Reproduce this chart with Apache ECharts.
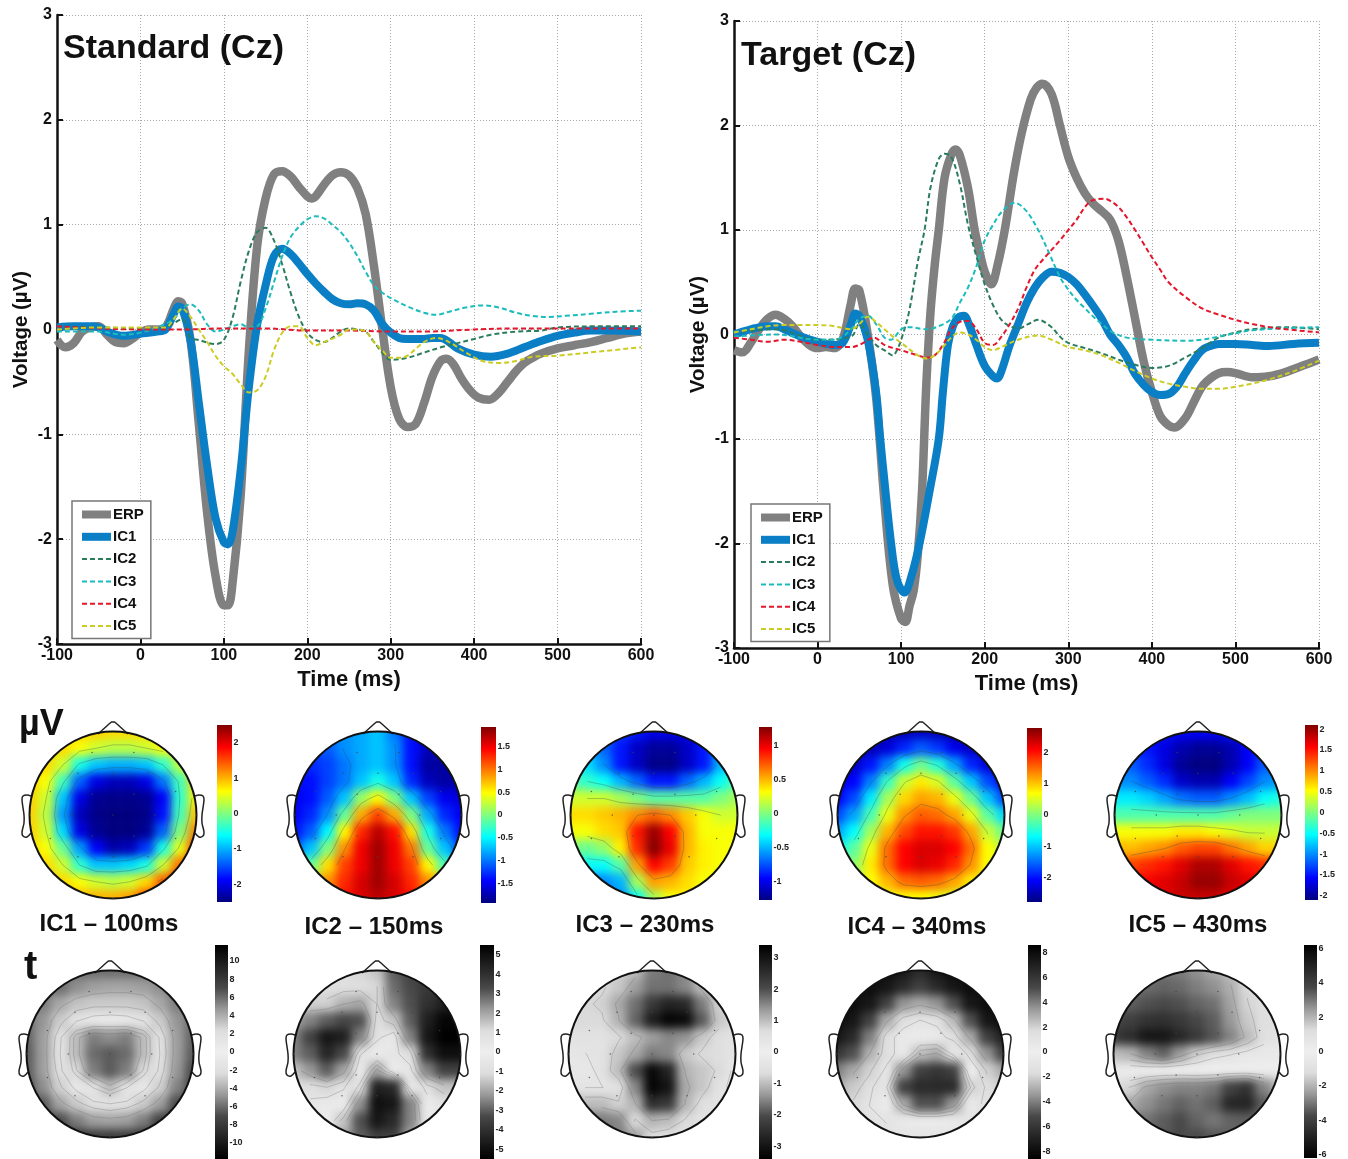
<!DOCTYPE html>
<html><head><meta charset="utf-8">
<script src="https://cdn.jsdelivr.net/npm/echarts@6/dist/echarts.min.js"></script>
<style>
html,body{margin:0;padding:0;background:#fff;}
#clip{position:absolute;left:0;top:0;width:1348px;height:1159px;overflow:hidden;}
#heat{position:absolute;left:0;top:0;width:1348px;height:1159px;filter:blur(5px);}
#main{position:absolute;left:0;top:0;width:1348px;height:1159px;}
</style></head><body>
<div id="clip"><div id="heat"></div></div>
<div id="main"></div>
<script>
/* ---------- waveform data: [time ms, voltage uV] ---------- */
const stdERP=[[-100,-.1],[-90,-.17],[-80,-.13],[-70,-.02],[-60,.02],[-50,.03],[-40,-.05],[-30,-.12],[-20,-.13],[-10,-.09],[0,-.03],[10,0],[20,0],[30,.02],[40,.2],[45,.27],[50,.25],[60,-.1],[70,-.9],[80,-1.75],[90,-2.35],[100,-2.63],[105,-2.63],[110,-2.45],[120,-1.6],[130,-.2],[140,.8],[150,1.25],[160,1.48],[170,1.51],[180,1.46],[190,1.36],[200,1.27],[205,1.25],[210,1.27],[220,1.38],[230,1.47],[240,1.5],[250,1.47],[260,1.35],[270,1.1],[280,.6],[290,0],[300,-.55],[310,-.85],[320,-.93],[330,-.9],[340,-.7],[350,-.45],[360,-.3],[367,-.28],[375,-.33],[385,-.47],[395,-.58],[405,-.65],[418,-.67],[430,-.6],[440,-.5],[450,-.4],[460,-.32],[470,-.27],[480,-.23],[500,-.18],[520,-.15],[540,-.12],[560,-.08],[580,-.04],[600,-.02]];
const stdIC1=[[-100,.02],[-80,.03],[-60,.03],[-50,.02],[-40,-.02],[-20,-.06],[0,-.04],[20,-.02],[30,0],[40,.15],[45,.22],[50,.2],[60,-.1],[70,-.7],[80,-1.3],[90,-1.8],[100,-2.03],[105,-2.05],[110,-1.95],[120,-1.35],[130,-.55],[140,.05],[150,.42],[160,.7],[170,.77],[180,.72],[190,.63],[200,.53],[210,.44],[220,.36],[230,.29],[240,.25],[250,.24],[260,.25],[270,.24],[280,.18],[290,.05],[300,-.03],[310,-.08],[320,-.09],[340,-.09],[350,-.08],[360,-.08],[370,-.12],[380,-.18],[400,-.24],[420,-.26],[440,-.23],[460,-.17],[480,-.11],[500,-.06],[520,-.03],[540,-.01],[560,-.01],[600,-.02]];
const stdIC2=[[-100,.03],[-50,.02],[0,.01],[30,.02],[40,.06],[50,.1],[60,-.08],[70,-.1],[90,-.14],[100,-.1],[110,.1],[120,.45],[130,.75],[140,.93],[150,.97],[160,.85],[170,.62],[180,.35],[190,.12],[200,-.03],[210,-.1],[220,-.12],[230,-.08],[240,-.02],[250,.01],[260,0],[270,-.02],[280,-.12],[290,-.22],[300,-.29],[320,-.27],[340,-.22],[360,-.17],[380,-.13],[400,-.09],[420,-.05],[450,-.02],[480,-.01],[500,.02],[550,.03],[600,.03]];
const stdIC3=[[-100,-.02],[-50,-.02],[-20,-.05],[0,-.03],[20,.02],[40,.1],[50,.2],[60,.24],[70,.18],[80,.05],[90,-.02],[100,0],[110,.03],[120,.05],[130,.02],[140,.03],[150,.2],[160,.45],[170,.7],[180,.88],[190,.98],[200,1.05],[210,1.08],[220,1.06],[230,1],[240,.93],[250,.83],[260,.7],[270,.55],[280,.42],[290,.35],[300,.3],[320,.22],[340,.16],[355,.14],[370,.17],[390,.21],[410,.23],[430,.21],[450,.16],[470,.13],[490,.12],[510,.13],[540,.15],[570,.17],[600,.18]];
const stdIC4=[[-100,.03],[0,0],[50,0],[100,.01],[150,.01],[200,-.01],[250,-.01],[300,-.02],[340,-.02],[400,0],[450,.01],[500,.01],[600,.01]];
const stdIC5=[[-100,0],[-50,.02],[0,.02],[30,.02],[40,.1],[50,.2],[60,.12],[70,0],[80,-.12],[90,-.25],[100,-.35],[110,-.42],[120,-.52],[130,-.6],[140,-.58],[150,-.45],[160,-.2],[170,-.03],[180,.03],[190,.03],[200,-.08],[210,-.15],[220,-.12],[240,-.05],[250,0],[260,0],[270,-.02],[280,-.12],[290,-.2],[300,-.27],[310,-.27],[320,-.25],[340,-.12],[355,-.08],[370,-.12],[390,-.22],[410,-.3],[430,-.32],[450,-.3],[470,-.26],[500,-.25],[550,-.21],[600,-.17]];

const tgtERP=[[-100,-.15],[-90,-.17],[-80,-.08],[-70,.05],[-60,.15],[-50,.19],[-40,.15],[-30,.08],[-20,-.02],[-10,-.1],[0,-.13],[10,-.12],[20,-.13],[30,-.05],[40,.3],[45,.44],[50,.42],[60,0],[70,-.6],[80,-1.6],[90,-2.4],[100,-2.72],[105,-2.75],[110,-2.6],[115,-2.45],[120,-2.1],[125,-1.5],[130,-.5],[135,.2],[140,.65],[145,1],[152,1.5],[160,1.72],[165,1.77],[170,1.72],[180,1.4],[188,1],[195,.75],[200,.6],[208,.48],[215,.65],[224,1],[235,1.55],[244,1.92],[255,2.25],[262,2.36],[269,2.4],[280,2.3],[290,2],[300,1.7],[310,1.5],[320,1.35],[330,1.25],[340,1.18],[350,1.1],[360,.9],[370,.55],[380,.15],[390,-.25],[400,-.55],[410,-.78],[420,-.87],[427,-.89],[440,-.8],[450,-.65],[460,-.5],[470,-.42],[480,-.37],[490,-.36],[500,-.37],[520,-.41],[540,-.4],[560,-.36],[580,-.3],[600,-.24]];
const tgtIC1=[[-100,0],[-80,.05],[-60,.08],[-50,.08],[-40,.05],[-20,-.02],[0,-.07],[20,-.1],[30,-.08],[40,.1],[45,.2],[50,.18],[60,-.05],[70,-.55],[75,-1],[80,-1.4],[88,-2],[95,-2.35],[104,-2.47],[112,-2.32],[122,-2],[134,-1.5],[145,-1],[150,-.55],[156,-.1],[162,.08],[168,.16],[175,.18],[182,.08],[190,-.1],[200,-.3],[210,-.4],[215,-.42],[220,-.35],[230,-.1],[240,.1],[250,.3],[260,.45],[270,.55],[280,.6],[290,.59],[300,.55],[310,.48],[320,.38],[330,.27],[340,.15],[350,0],[360,-.1],[370,-.22],[380,-.38],[390,-.48],[400,-.55],[410,-.58],[420,-.57],[430,-.5],[440,-.37],[450,-.25],[460,-.15],[470,-.11],[480,-.09],[500,-.09],[520,-.1],[540,-.11],[570,-.09],[600,-.08]];
const tgtIC2=[[-100,.02],[-50,.05],[0,-.05],[40,-.02],[50,.1],[60,0],[70,-.1],[80,-.15],[90,-.2],[95,-.15],[100,-.05],[109,.2],[120,.7],[128,1],[135,1.4],[145,1.68],[152,1.73],[160,1.7],[170,1.45],[180,1.05],[190,.75],[200,.48],[210,.28],[220,.14],[230,.08],[241,.06],[252,.1],[264,.14],[280,.07],[290,-.02],[300,-.08],[320,-.13],[340,-.18],[360,-.24],[380,-.29],[400,-.32],[420,-.3],[440,-.22],[460,-.13],[480,-.03],[500,.02],[520,.05],[560,.07],[600,.05]];
const tgtIC3=[[-100,-.02],[-50,0],[0,-.05],[20,-.05],[30,-.02],[40,.05],[50,.15],[60,.18],[70,.1],[80,-.03],[88,-.05],[100,.05],[110,.07],[130,.05],[145,.08],[160,.15],[170,.3],[180,.45],[190,.65],[200,.9],[210,1.05],[220,1.17],[236,1.26],[250,1.18],[264,1],[277,.78],[290,.55],[300,.43],[310,.33],[320,.25],[330,.17],[340,.1],[351,.03],[370,-.03],[400,-.05],[440,-.06],[459,-.05],[480,-.02],[499,.01],[520,.04],[560,.06],[600,.07]];
const tgtIC4=[[-100,-.03],[-80,-.05],[-60,-.07],[-40,-.05],[-20,-.07],[0,-.1],[20,-.12],[40,-.12],[50,-.1],[68,-.03],[80,-.1],[100,-.15],[120,-.2],[130,-.22],[140,-.2],[150,-.1],[160,.05],[170,.12],[180,.13],[190,.05],[200,-.08],[210,-.1],[220,-.02],[230,.1],[240,.25],[250,.45],[260,.62],[270,.72],[280,.81],[290,.9],[300,1],[310,1.1],[320,1.22],[328,1.28],[343,1.3],[352,1.27],[360,1.22],[370,1.12],[380,1],[390,.87],[400,.74],[410,.62],[420,.5],[440,.36],[460,.25],[480,.19],[500,.14],[520,.1],[550,.06],[600,.02]];
const tgtIC5=[[-100,.02],[-80,.05],[-60,.08],[-40,.09],[-20,.09],[0,.09],[20,.08],[40,.05],[50,.1],[60,.17],[70,.12],[80,.05],[90,-.02],[100,-.08],[120,-.2],[130,-.23],[140,-.2],[150,-.12],[160,-.03],[170,.02],[180,0],[190,-.05],[200,-.12],[210,-.15],[220,-.12],[240,-.05],[264,-.01],[280,-.05],[300,-.12],[320,-.15],[340,-.2],[360,-.27],[380,-.35],[400,-.42],[420,-.47],[440,-.5],[460,-.52],[480,-.52],[500,-.5],[520,-.47],[540,-.43],[570,-.35],[600,-.25]];

/* ---------- labels ---------- */
const seriesNames=['ERP','IC1','IC2','IC3','IC4','IC5'];
const mapTitles=['IC1 – 100ms','IC2 – 150ms','IC3 – 230ms','IC4 – 340ms','IC5 – 430ms'];

/* ---------- scalp maps, rows front to back, columns left to right ---------- */
const uvIC1=[[.85,.85,.85,.85,.85,.8,.8,.8,.85,.85,.85],[.85,.85,.8,.6,.4,.3,.3,.4,.6,.8,.85],[.85,.8,.4,-.5,-.9,-1,-1,-.9,-.4,.3,.8],[.85,.6,-.3,-1.4,-2,-2.2,-2.2,-2,-1.3,-.3,.8],[.85,.4,-.9,-2,-2.4,-2.45,-2.45,-2.4,-1.9,-.4,.7],[.85,.3,-1.1,-2.2,-2.45,-2.5,-2.5,-2.45,-1.8,-.3,.9],[.85,.4,-.8,-2,-2.4,-2.5,-2.5,-2.4,-1.4,0,1.2],[.85,.6,-.1,-1.1,-1.9,-2.3,-2.2,-1.6,-.5,.5,1.6],[.9,.8,.4,-.4,-.9,-.9,-.8,-.5,.4,1.3,2],[1,.95,.8,.6,.4,.3,.4,.8,1.4,2,2.3],[1.1,1.1,1.1,1,1,1,1.1,1.6,2,2.3,2.4]];
const uvIC2=[[-1,-1,-.9,-.9,-.8,-.7,-1,-1.4,-1.6,-1.6,-1.6],[-1.2,-1.2,-1.1,-.9,-.8,-.7,-.9,-1.4,-1.7,-1.7,-1.7],[-1.3,-1.3,-1.2,-1,-.8,-.7,-.9,-1.4,-1.8,-1.8,-1.7],[-1.4,-1.4,-1.2,-1,-.7,-.4,-.7,-1.3,-1.7,-1.8,-1.7],[-1.5,-1.4,-1.1,-.7,.1,.5,0,-.7,-1.2,-1.5,-1.6],[-1.5,-1.3,-.9,-.1,.8,1.2,.8,0,-.8,-1.3,-1.5],[-1.4,-1.1,-.5,.5,1.3,1.7,1.4,.6,-.4,-1,-1.4],[-1.1,-.7,0,.9,1.5,1.8,1.5,1,-.1,-.7,-1.2],[-.5,-.1,.6,1.2,1.5,1.8,1.5,1.2,.5,-.2,-.6],[.1,.4,.9,1.3,1.6,1.8,1.6,1.3,.9,.5,.1],[.4,.8,1.1,1.4,1.6,1.7,1.6,1.4,1.1,.8,.4]];
const uvIC3=[[-.5,-.6,-.7,-.8,-.9,-1,-1,-1,-.9,-.7,-.5],[-.4,-.5,-.7,-.9,-1.1,-1.2,-1.2,-1.1,-.9,-.6,-.4],[-.3,-.4,-.6,-.9,-1.1,-1.25,-1.25,-1.1,-.9,-.5,-.3],[-.1,-.2,-.3,-.5,-.7,-.9,-.9,-.7,-.5,-.3,-.1],[.2,.2,.2,.1,0,-.1,-.1,-.1,-.1,0,.1],[.4,.4,.45,.5,.6,.7,.6,.45,.3,.2,.2],[.3,.3,.4,.45,.9,1.2,.95,.5,.3,.3,.3],[0,-.05,.05,.35,.85,1.25,1,.5,.35,.3,.3],[-.4,-.3,-.3,-.1,.55,.95,.8,.45,.35,.3,.3],[-.8,-.7,-.6,-.5,.1,.55,.5,.4,.3,.3,.3],[-1,-.9,-.8,-.6,-.3,.1,.3,.35,.3,.3,.3]];
const uvIC4=[[-2.6,-2.6,-2.6,-2.6,-2.5,-2.4,-2.5,-2.6,-2.6,-2.6,-2.6],[-2.5,-2.5,-2.5,-2.3,-1.9,-1.6,-1.8,-2.2,-2.4,-2.5,-2.5],[-2.5,-2.4,-2,-1.4,-.6,-.1,-.5,-1.2,-1.9,-2.3,-2.4],[-2.3,-2.1,-1.4,-.4,.4,.8,.5,-.2,-1,-1.7,-2.2],[-2.1,-1.7,-.8,.2,.9,1.2,1.1,.6,-.1,-1,-1.7],[-1.7,-1.2,-.3,.6,1.3,1.6,1.5,1.2,.6,-.2,-.9],[-1.2,-.7,.2,1.1,1.7,2,2,1.8,1.2,.4,-.1],[-.7,-.2,.6,1.5,2.1,2.3,2.3,2.1,1.5,.7,.3],[-.3,.1,.8,1.5,2.1,2.3,2.2,1.9,1.3,.7,.3],[0,.3,.7,1.1,1.5,1.6,1.5,1.2,.8,.5,.2],[.2,.3,.4,.6,.7,.7,.6,.5,.4,.3,.2]];
const uvIC5=[[-1.5,-1.5,-1.5,-1.5,-1.6,-1.6,-1.6,-1.5,-1.5,-1.4,-1.4],[-1.4,-1.4,-1.5,-1.7,-1.9,-2,-2,-1.9,-1.6,-1.4,-1.3],[-1.2,-1.2,-1.4,-1.7,-2,-2.1,-2.1,-1.9,-1.6,-1.2,-1.1],[-1,-1,-1.2,-1.4,-1.8,-1.9,-1.9,-1.6,-1.3,-1,-.9],[-.6,-.6,-.7,-.9,-1.1,-1.2,-1.2,-1,-.8,-.5,-.4],[-.2,-.2,-.2,-.2,-.2,-.2,-.2,-.1,0,0,0],[.5,.5,.5,.5,.6,.6,.5,.4,.3,.3,.3],[.8,.8,.9,1,1.2,1.3,1.3,1.1,.9,.7,.7],[1.3,1.3,1.4,1.5,1.7,1.9,1.9,1.7,1.5,1.4,1.3],[1.6,1.6,1.6,1.7,1.8,2,2,1.8,1.7,1.6,1.5],[1.7,1.7,1.7,1.7,1.8,1.8,1.8,1.7,1.7,1.6,1.6]];
const tIC1=[[6,6,6,6,6,6,6,6,6,6,6],[6,6,6,5,4.5,4.3,4.3,4.5,5,6,6],[6,5.5,4.2,3.3,3,3,3,3.2,4.2,5.5,6],[6,4.8,3,1.5,.8,.6,.8,1.5,3,4.8,6],[6.3,4.5,1.8,-3.5,-5.5,-5,-5.5,-3.5,1.8,4.5,6.3],[6.5,4.5,1.5,-3.5,-6,-6.5,-6,-3.5,1.5,4.5,6.5],[6.5,4.5,2,-2.5,-5.5,-6.5,-5.5,-2.5,2,4.7,7],[7,5,2.8,1,-1.5,-3.5,-1.5,1,2.8,5.3,7.5],[8,6.5,4.3,3,2,1.5,2,3,4.5,7,8.5],[9,8.5,7,5.5,4.5,4.3,4.5,5.5,7.5,9,9.5],[9.5,9.5,9,8.5,8,8,8,8.5,9,9.5,9.5]];
const tIC2=[[1,1,1,1,1.2,1.5,3,3.5,4,4,4],[1,1,1,1,1,1.2,2.8,3.3,3.8,4,4],[1.3,1.3,1.3,1.8,2,1.2,2.5,3.2,4,4.5,4.5],[2,2.5,3,3.4,3.2,1,1.5,3,4.5,5.3,5.3],[2.5,3.5,4.8,4.5,2.5,.8,.3,2.5,4.8,5.5,5.5],[2.5,3,4.3,3.3,.7,.2,.5,1,4,5,5],[1.5,2.2,3,2,.2,-2,-.2,.5,2.5,3.5,3.5],[1,1,1.2,.8,-1,-4.5,-4.2,-.5,1,1.5,1.5],[.5,.5,.3,-.2,-2.3,-5,-4.8,-2.5,.2,.7,.8],[.5,.3,0,-1.5,-3.2,-4.8,-4.2,-2.5,-.3,0,.3],[.5,.3,-.8,-2,-3,-3.5,-3.5,-2,-.6,0,.3]];
const tIC3=[[.7,.7,.7,.8,1,1.6,1.7,1.5,1,.7,.7],[.7,.7,.7,.9,1.3,1.7,1.7,1.5,1,.7,.7],[.7,.7,.8,1.2,1.7,2.3,2.7,2.6,1.6,.8,.7],[.7,.7,.7,1.1,1.8,2.8,3.3,3.2,1.9,.9,.7],[.5,.5,.5,.7,1,1.3,1.5,1.4,.9,.6,.5],[.3,.4,.5,.9,1.2,1.6,1.5,.9,.7,.6,.4],[.3,.3,.5,1,2,3.2,2.7,1.1,.9,.7,.3],[.4,.4,.4,.5,1.5,3.3,3,1.2,.9,.5,.3],[1.1,1,1,.8,1.1,2.5,2.3,1.1,.6,.4,.3],[2,1.8,1.6,1.5,.7,1.1,1,.7,.5,.3,.3],[2.3,2,1.8,1.6,1.3,.6,.5,.4,.3,.3,.3]];
const tIC4=[[8,8,8,8,7.5,6.5,7.5,8,8,8,8],[8,8,8,7.5,6.5,5.5,6.5,7.5,8,8,8],[8,8,7.5,5.5,3.5,3,3.5,5,7.5,8,8],[8,7.5,5.5,3,1.5,1,1.3,2.5,5,7.5,8],[7.5,6.5,4,1.5,.5,.3,.5,1.5,3,5.5,7],[6,5,2.8,1.5,.5,-2.5,-3,-.8,1.5,3.5,5.5],[4,3,2,.8,-3.5,-5.5,-6,-5.5,0,2,3],[3,2.2,1.5,-1,-5.5,-6.5,-6.5,-6.5,-2,1.5,2],[2,1.8,1,.3,-3,-5,-5,-3.5,.5,1.3,1.5],[1.5,1.5,1.2,1,.5,.3,.3,.5,1,1.2,1.3],[1.5,1.5,1.3,1.2,1,1,1,1,1.2,1.3,1.3]];
const tIC5=[[2.8,2.8,3,3,2.9,2.6,2.2,1.8,1.3,1,1],[3,3,3.2,3.3,3.2,2.9,2.6,2.1,1.3,1,1],[3.4,3.4,3.6,3.7,3.6,3.3,3.1,2.3,1.4,1,1],[3.8,4,4.4,4.5,4.2,3.8,3.4,2.5,1.6,1,1],[4.2,4.6,5.4,5.4,4.8,4.2,3.5,2.8,1.9,1,.8],[1.8,2,2.8,3.3,2.4,1.5,1,.8,.5,.4,.4],[.3,.2,.1,0,0,.1,0,-.1,-.1,-.1,-.1],[-1,-1.4,-2.2,-2.6,-2.8,-2.8,-3,-3.9,-4.4,-2.8,-1.8],[-1.8,-2.2,-2.6,-3,-3.3,-3.1,-3.4,-4.8,-4.9,-3.4,-2.6],[-2.6,-2.8,-3.1,-3.4,-3.7,-3.3,-3,-3.3,-3.4,-3,-2.8],[-3,-3.2,-3.3,-3.5,-3.7,-3.7,-3.5,-3.3,-3.1,-3,-2.8]];
const electrodes=[[-.42,-.5],[0,-.5],[.42,-.5],[-.75,-.28],[-.25,-.25],[.25,-.25],[.75,-.28],[-1,0],[-.5,0],[0,0],[.5,0],[1,0],[-.75,.28],[-.25,.25],[.25,.25],[.75,.28],[-.42,.5],[0,.5],[.42,.5],[0,1],[-.25,-.75],[.25,-.75]];

/* colour-bar ranges and ticks */
const uvRanges=[2.5,1.93,1.27,2.8,2.1];
const tRanges=[11.76,5.5,3.4,8.6,6.2];
const uvBarTicks=[[-2,-1,0,1,2],[-1.5,-1,-.5,0,.5,1,1.5],[-1,-.5,0,.5,1],[-2,-1,0,1,2],[-2,-1.5,-1,-.5,0,.5,1,1.5,2]];
const tBarTicks=[[-10,-8,-6,-4,-2,0,2,4,6,8,10],[-5,-4,-3,-2,-1,0,1,2,3,4,5],[-3,-2,-1,0,1,2,3],[-8,-6,-4,-2,0,2,4,6,8],[-6,-4,-2,0,2,4,6]];
const uvLevels=[-.48,-.16,.16,.48];
const tLevels=[-.33,-.22,-.12,.12,.22,.33];

/* ---------- styling / layout ---------- */
const FONT='"Liberation Sans",Arial,sans-serif';
const JET=['#00007f','#0000ff','#007fff','#00ffff','#7fff7f','#ffff00','#ff7f00','#ff0000','#7f0000'];
const GRAY=['#000000','#222222','#484848','#999999','#dddddd','#eeeeee','#dddddd','#999999','#484848','#222222','#000000'];
const lineStyles=[
 {color:'#808080',width:8.5},{color:'#0a7fc6',width:8},
 {color:'#2a7d5c',width:2,type:[5,3]},{color:'#1cbcbc',width:2,type:[5,3]},
 {color:'#e3162b',width:2,type:[5,3]},{color:'#cccc22',width:2,type:[5,3]}];
const uvMaps=[uvIC1,uvIC2,uvIC3,uvIC4,uvIC5];
const tMaps=[tIC1,tIC2,tIC3,tIC4,tIC5];
const R=83.5;
const uvCentres=[[113,815],[378,815],[654,815],[921,815],[1198,815]];
const tCentres=[[110,1054],[377,1054],[652,1054],[920,1054],[1197,1054]];
const uvBars=[[217,725,15,177],[481,727,15,176],[759,727,13,173],[1027,728,15,174],[1305,725,13,175]];
const tBars=[[215,945,13,214],[480,945,14,214],[759,945,13,214],[1028,945,13,214],[1304,945,13,214]];
const titlePos=[[109,924],[374,927],[645,925],[917,927],[1198,925]];

/* ---------- heat layer (blurred, clipped to the scalp circles) ---------- */
const heat=echarts.init(document.getElementById('heat'),null,{renderer:'canvas'});
const allMaps=uvMaps.concat(tMaps), allCentres=uvCentres.concat(tCentres);
const allRanges=uvRanges.concat(tRanges);
const idx=[0,1,2,3,4,5,6,7,8,9,10];
heat.setOption({
 animation:false,
 grid:allCentres.map(c=>({left:c[0]-R*1.1,top:c[1]-R*1.1,width:R*2.2,height:R*2.2})),
 xAxis:allMaps.map((m,i)=>({type:'category',gridIndex:i,data:idx,show:false})),
 yAxis:allMaps.map((m,i)=>({type:'category',gridIndex:i,data:idx,inverse:true,show:false})),
 visualMap:allMaps.map((m,i)=>({show:false,seriesIndex:i,min:-allRanges[i],max:allRanges[i],inRange:{color:i<5?JET:GRAY}})),
 series:allMaps.map((m,i)=>({type:'heatmap',xAxisIndex:i,yAxisIndex:i,silent:true,progressive:0,
   data:m.flatMap((row,r)=>row.map((v,c)=>[c,r,v]))}))
});
document.getElementById('clip').style.clipPath='path("'+allCentres.map(c=>
  `M${c[0]-R} ${c[1]}A${R} ${R} 0 1 0 ${c[0]+R} ${c[1]}A${R} ${R} 0 1 0 ${c[0]-R} ${c[1]}Z`).join('')+'")';

/* ---------- main layer ---------- */
const chart=echarts.init(document.getElementById('main'),null,{renderer:'canvas'});
const tickFont={color:'#111',fontFamily:FONT,fontWeight:'bold',fontSize:16};
function lineX(i){return {type:'value',gridIndex:i,min:-100,max:600,interval:100,name:'Time (ms)',nameLocation:'middle',nameGap:23,
  nameTextStyle:{color:'#111',fontFamily:FONT,fontWeight:'bold',fontSize:22},
  axisLine:{onZero:false,lineStyle:{color:'#111',width:2.5}},axisTick:{inside:true,length:6,lineStyle:{color:'#111',width:2}},
  axisLabel:Object.assign({margin:4,showMinLabel:true,showMaxLabel:true,hideOverlap:false},tickFont),
  splitLine:{show:true,lineStyle:{color:'#a8a8a8',width:1,type:[1,2]}}};}
function lineY(i){return {type:'value',gridIndex:i,min:-3,max:3,interval:1,name:'Voltage (µV)',nameLocation:'middle',nameGap:25,
  nameTextStyle:{color:'#111',fontFamily:FONT,fontWeight:'bold',fontSize:20.5},
  axisLine:{onZero:false,lineStyle:{color:'#111',width:2.5}},axisTick:{inside:true,length:6,lineStyle:{color:'#111',width:2}},
  axisLabel:Object.assign({margin:5,showMinLabel:true,showMaxLabel:true,hideOverlap:false},tickFont),
  splitLine:{show:true,lineStyle:{color:'#a8a8a8',width:1,type:[1,2]}}};}
const grids=[{left:57,top:15,width:584,height:629},{left:734,top:21,width:585,height:627}];
const xAxes=[lineX(0),lineX(1)], yAxes=[lineY(0),lineY(1)], series=[];
const stdAll=[stdERP,stdIC1,stdIC2,stdIC3,stdIC4,stdIC5], tgtAll=[tgtERP,tgtIC1,tgtIC2,tgtIC3,tgtIC4,tgtIC5];
[stdAll,tgtAll].forEach((set,g)=>set.forEach((d,k)=>series.push({
  name:seriesNames[k],type:'line',xAxisIndex:g,yAxisIndex:g,data:d,smooth:.35,symbol:'none',showSymbol:false,silent:true,clip:true,
  lineStyle:lineStyles[k],itemStyle:{color:lineStyles[k].color}})));

function addBar(rect,range,ticks,colors){
  const g=grids.length;
  grids.push({left:rect[0],top:rect[1],width:rect[2],height:rect[3]});
  xAxes.push({type:'value',gridIndex:g,min:0,max:1,show:false});
  yAxes.push({type:'value',gridIndex:g,min:-range,max:range,position:'right',
    axisLine:{show:false},splitLine:{show:false},
    axisTick:{show:true,inside:false,length:1.5,customValues:ticks,lineStyle:{color:'#555'}},
    axisLabel:{show:true,customValues:ticks,margin:1.5,color:'#222',fontFamily:FONT,fontWeight:'bold',fontSize:9}});
  const top=colors.slice().reverse();
  const stops=top.map((c,i)=>({offset:i/(top.length-1),color:c}));
  series.push({type:'custom',xAxisIndex:g,yAxisIndex:g,silent:true,data:[[0,-range,range]],z:1,
    renderItem:(p,api)=>{const a=api.coord([0,api.value(2)]),b=api.coord([1,api.value(1)]);
      return {type:'rect',shape:{x:a[0],y:a[1],width:b[0]-a[0],height:b[1]-a[1]},
        style:{fill:new echarts.graphic.LinearGradient(0,0,0,1,stops)}};}});
}
uvBars.forEach((b,i)=>addBar(b,uvRanges[i],uvBarTicks[i],JET));
tBars.forEach((b,i)=>addBar(b,tRanges[i],tBarTicks[i],GRAY));

/* iso-lines derived from each map's own grid (marching squares) */
function isoSegments(m,level){
  const segs=[], P=i=>-1+.2*i;
  for(let r=0;r<10;r++)for(let c=0;c<10;c++){
    const a=m[r][c],b=m[r][c+1],d=m[r+1][c+1],e=m[r+1][c], pts=[];
    const cross=(p,q,x1,y1,x2,y2)=>{if((p<level)!==(q<level)){const k=(level-p)/(q-p);pts.push([x1+(x2-x1)*k,y1+(y2-y1)*k]);}};
    cross(a,b,P(c),P(r),P(c+1),P(r));
    cross(b,d,P(c+1),P(r),P(c+1),P(r+1));
    cross(e,d,P(c),P(r+1),P(c+1),P(r+1));
    cross(a,e,P(c),P(r),P(c),P(r+1));
    for(let i=0;i+1<pts.length;i+=2){
      const [u,v]=[pts[i],pts[i+1]];
      if(Math.hypot(u[0],u[1])<.98&&Math.hypot(v[0],v[1])<.98)segs.push([u[0],u[1],v[0],v[1]]);
    }
  }
  return segs;
}
allMaps.forEach((m,i)=>{
  const g=grids.length,c=allCentres[i],lv=i<5?uvLevels:tLevels,rng=allRanges[i];
  grids.push({left:c[0]-R,top:c[1]-R,width:R*2,height:R*2});
  xAxes.push({type:'value',gridIndex:g,min:-1,max:1,show:false});
  yAxes.push({type:'value',gridIndex:g,min:-1,max:1,inverse:true,show:false});
  series.push({type:'custom',xAxisIndex:g,yAxisIndex:g,silent:true,clip:false,z:3,
    data:lv.flatMap(f=>isoSegments(m,f*rng)),
    renderItem:(p,api)=>{const a=api.coord([api.value(0),api.value(1)]),b=api.coord([api.value(2),api.value(3)]);
      return {type:'line',shape:{x1:a[0],y1:a[1],x2:b[0],y2:b[1]},style:{stroke:i<5?'rgba(50,80,80,.4)':'rgba(110,110,110,.4)',lineWidth:.8}};}});
  series.push({type:'scatter',xAxisIndex:g,yAxisIndex:g,silent:true,z:4,symbolSize:1.5,data:electrodes,itemStyle:{color:'#444'}});
});

/* head outlines (nose, ears, scalp circle) */
function headOutline(c){
  const e=s=>[[s*82,-19],[s*86,-20],[s*90,-19],[s*91,-15],[s*89,0],[s*89,8],[s*91,17],[s*90,21],[s*86,22],[s*82,18]];
  const line={stroke:'#222',lineWidth:1.5,fill:null};
  return {type:'group',x:c[0],y:c[1],silent:true,children:[
    {type:'polyline',shape:{points:[[-15,-81],[-4,-91],[-1.5,-93],[1.5,-93],[4,-91],[15,-81]]},style:line},
    {type:'polyline',shape:{points:e(1),smooth:.3},style:line},
    {type:'polyline',shape:{points:e(-1),smooth:.3},style:line},
    {type:'circle',shape:{cx:0,cy:0,r:R},style:{stroke:'#111',lineWidth:2,fill:null}}
  ]};
}
const labelStyle=(x,y,text,size,align)=>({type:'text',x,y,silent:true,style:{text,fill:'#111',font:`bold ${size}px ${FONT}`,align:align||'center',verticalAlign:'middle'}});

chart.setOption({
 animation:false,backgroundColor:'transparent',
 title:[{text:'Standard (Cz)',left:63,top:32,padding:0,textStyle:{fontFamily:FONT,fontWeight:'bold',fontSize:34,color:'#111'}},
        {text:'Target (Cz)',left:741,top:39,padding:0,textStyle:{fontFamily:FONT,fontWeight:'bold',fontSize:34,color:'#111'}}],
 legend:[[72,501],[751,504]].map(p=>({left:p[0],top:p[1],orient:'vertical',itemWidth:29,itemHeight:14,itemGap:7.3,padding:[6,7,5,6],
   data:seriesNames.map((n,k)=>({name:n,itemStyle:{color:'transparent',borderWidth:0,opacity:0},lineStyle:{width:k<2?8:2}})),
   borderColor:'#777',borderWidth:1.5,backgroundColor:'#fff',selectedMode:false,
   textStyle:{fontFamily:FONT,fontWeight:'bold',fontSize:15,color:'#111',padding:[0,0,0,-3]}})),
 grid:grids,xAxis:xAxes,yAxis:yAxes,series,
 graphic:[].concat(
   allCentres.map(headOutline),
   mapTitles.map((t,i)=>labelStyle(titlePos[i][0],titlePos[i][1],t,24)),
   [labelStyle(19,725,'µV',36,'left'),labelStyle(24,968,'t',40,'left')])
});
</script></body></html>
